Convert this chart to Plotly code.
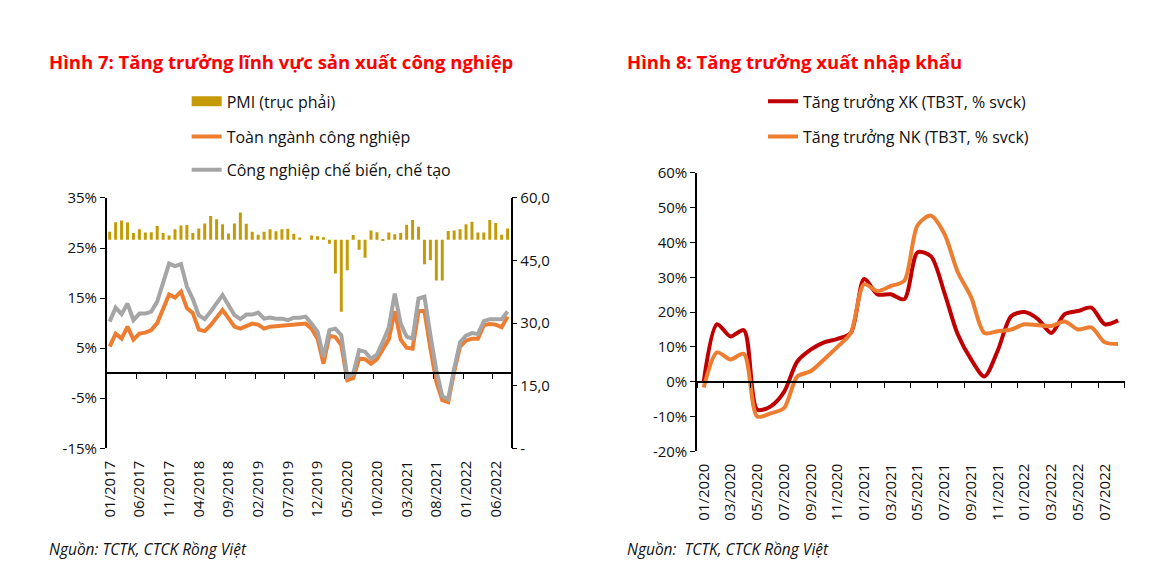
import plotly.graph_objects as go

# ---------------- data ----------------
months_ip = [f"{m:02d}/{y}" for y in range(2017, 2023) for m in range(1, 13)][:68]
pmi = [51.9, 54.2, 54.6, 54.1, 51.6, 52.5, 51.7, 51.8, 53.3, 51.6, 51.0, 52.5,
       53.4, 53.5, 51.6, 52.7, 53.9, 55.7, 54.9, 53.7, 51.5, 53.9, 56.5, 53.8,
       51.9, 51.2, 51.9, 52.5, 52.0, 52.5, 52.6, 51.4, 50.5, 50.0, 51.0, 50.8,
       50.6, 49.0, 41.9, 32.7, 42.7, 51.1, 47.6, 45.7, 52.2, 51.8, 49.9, 51.7,
       51.3, 51.6, 53.6, 54.7, 53.1, 44.1, 45.1, 40.2, 40.2, 52.1, 52.2, 52.5,
       53.7, 54.3, 51.7, 51.7, 54.7, 54.0, 51.2, 52.7]
ip_total = [5.3, 7.9, 6.9, 9.3, 6.7, 7.9, 8.1, 8.6, 10.0, 12.7, 15.7, 15.1,
            16.3, 13.0, 12.0, 8.7, 8.4, 9.6, 11.2, 12.6, 11.0, 9.3,
            8.9, 9.5, 9.9, 9.7, 8.9, 9.3, 9.4, 9.5, 9.6, 9.7, 9.9, 9.9,
            8.9, 6.9, 1.9, 7.5, 7.2, 5.6, -1.4, -1.0, 2.9, 2.8,
            1.9, 2.8, 4.8, 6.8, 12.4, 6.7, 5.1, 4.9, 12.4, 12.4, 5.0, -1.7,
            -5.4, -5.8, 0.3, 5.3, 6.5, 6.9, 6.9, 9.6, 9.8, 9.7, 9.2, 11.3]
ip_mfg = [10.3, 13.1, 11.8, 13.9, 10.6, 11.9, 11.9, 12.3, 14.3, 17.9, 21.9, 21.4,
          21.8, 17.3, 14.8, 11.6, 10.8, 12.3, 13.9, 15.6, 13.6, 11.6,
          10.8, 11.7, 11.7, 12.1, 10.9, 11.1, 10.9, 10.9, 10.6, 11.1, 11.1, 11.3,
          9.9, 8.3, 3.2, 8.6, 8.9, 7.6, -0.7, -0.1, 4.6, 4.3,
          2.9, 3.7, 6.3, 9.2, 15.9, 9.9, 7.3, 6.9, 14.9, 15.3, 7.6, 0.6,
          -4.6, -5.2, 0.9, 6.2, 7.5, 8.0, 7.8, 10.4, 10.8, 10.9, 10.8, 12.3]

months_tr = [f"{m:02d}/{y}" for y in range(2020, 2023) for m in range(1, 13)][:32]
xk = [0.0, 16.5, 13.0, 14.8, -8.0, -7.1, -3.0, 5.8, 9.2, 11.3, 12.3, 14.0,
      29.5, 25.1, 25.1, 23.7, 37.2, 36.0, 25.6, 13.6, 6.4, 1.5, 9.0, 18.8,
      20.0, 18.0, 14.0, 19.4, 20.3, 21.3, 16.5, 17.6]
nk = [-1.7, 8.4, 6.4, 8.0, -10.0, -9.1, -7.6, 1.5, 3.0, 6.4, 10.0, 14.0,
      28.0, 26.0, 27.5, 29.0, 45.0, 47.7, 42.5, 31.5, 24.3, 14.0, 14.5, 15.0,
      16.5, 16.2, 16.0, 17.3, 15.0, 15.6, 11.3, 10.8]

left_ticks = [-15, -5, 5, 15, 25, 35]
left_ticktext = ["-15%", "-5%", "5%", "15%", "25%", "35%"]
pmi_ticks = [0, 15, 30, 45, 60]
pmi_ticktext = ["-", "15,0", "30,0", "45,0", "60,0"]
right_ticks = [-20, -10, 0, 10, 20, 30, 40, 50, 60]
right_ticktext = ["-20%", "-10%", "0%", "10%", "20%", "30%", "40%", "50%", "60%"]

# ---------------- style ----------------
W, H = 1172, 572
FONT = "Open Sans"
TXT = "#111111"
GOLD = "#C49A06"
ORANGE = "#ED7D31"
GRAY = "#A5A5A5"
DARKRED = "#C00000"

# calibration of the capture (observed = s * page + b)
SX, BX = 0.996, 6.0
SY, BY = 0.96, 13.0

def PX(r):
    return (r - BX) / SX

def PY(r):
    return (r - BY) / SY

def fx(r):
    return PX(r) / W

def fy(r):
    return 1 - PY(r) / H

fig = go.Figure()

# left chart
fig.add_trace(go.Bar(x=months_ip, y=[p - 50 for p in pmi], base=50, width=0.5,
                     marker=dict(color=GOLD, line=dict(width=0)),
                     xaxis="x", yaxis="y2", showlegend=False, name="PMI (trục phải)"))
fig.add_trace(go.Scatter(x=[None], y=[None], mode="lines", name="PMI (trục phải)",
                         line=dict(color=GOLD, width=10), xaxis="x", yaxis="y2",
                         legend="legend"))
fig.add_trace(go.Scatter(x=months_ip, y=ip_total, mode="lines", name="Toàn ngành công nghiệp",
                         line=dict(color=ORANGE, width=4), xaxis="x", yaxis="y",
                         legend="legend2"))
fig.add_trace(go.Scatter(x=months_ip, y=ip_mfg, mode="lines", name="Công nghiệp chế biến, chế tạo",
                         line=dict(color=GRAY, width=4), xaxis="x", yaxis="y",
                         legend="legend3"))

# right chart
fig.add_trace(go.Scatter(x=months_tr, y=xk, mode="lines", name="Tăng trưởng XK (TB3T, % svck)",
                         line=dict(color=DARKRED, width=4, shape="spline", smoothing=0.8),
                         xaxis="x2", yaxis="y3", legend="legend4"))
fig.add_trace(go.Scatter(x=months_tr, y=nk, mode="lines", name="Tăng trưởng NK (TB3T, % svck)",
                         line=dict(color=ORANGE, width=4, shape="spline", smoothing=0.8),
                         xaxis="x2", yaxis="y3", legend="legend5"))

axis_font = dict(family=FONT, size=15, color=TXT)

fig.update_layout(
    width=W, height=H, margin=dict(l=0, r=0, t=0, b=0),
    paper_bgcolor="white", plot_bgcolor="white",
    font=dict(family=FONT, size=15, color=TXT),
    xaxis=dict(domain=[fx(105), fx(510)], anchor="free", position=fy(373),
               type="category", categoryorder="array", categoryarray=months_ip,
               range=[-0.5, 67.5], tickmode="linear", tick0=0, dtick=5,
               tickson="boundaries", ticks="outside", ticklen=5, tickcolor="black",
               showline=True, linecolor="black", linewidth=1.5, showgrid=False,
               tickangle=-90, tickfont=axis_font, ticklabelstandoff=81),
    yaxis=dict(domain=[fy(448), fy(199)], anchor="x", range=[-15, 35],
               tickmode="array", tickvals=left_ticks, ticktext=left_ticktext,
               ticks="outside", ticklen=5,
               tickcolor="black", showline=True, linecolor="black", linewidth=1.5,
               showgrid=False, zeroline=False, tickfont=axis_font),
    yaxis2=dict(overlaying="y", side="right", anchor="x", range=[0, 60],
                tickmode="array", tickvals=pmi_ticks, ticktext=pmi_ticktext,
                ticks="outside", ticklen=5,
                tickcolor="black", showline=True, linecolor="black", linewidth=1.5,
                showgrid=False, zeroline=False, tickfont=axis_font),
    xaxis2=dict(domain=[fx(697), fx(1126)], anchor="free", position=fy(382),
                type="category", categoryorder="array", categoryarray=months_tr,
                range=[-0.5, 31.5], tickmode="linear", tick0=0, dtick=2,
                tickson="boundaries", ticks="outside", ticklen=5, tickcolor="black",
                showline=True, linecolor="black", linewidth=1.5, showgrid=False,
                tickangle=-90, tickfont=axis_font, ticklabelstandoff=75),
    yaxis3=dict(domain=[fy(451), fy(174)], anchor="x2", range=[-20, 60],
                tickmode="array", tickvals=right_ticks, ticktext=right_ticktext,
                ticks="outside", ticklen=5,
                tickcolor="black", showline=True, linecolor="black", linewidth=1.5,
                showgrid=False, zeroline=False, tickfont=axis_font),
)

leg_common = dict(xanchor="left", yanchor="middle", bgcolor="rgba(0,0,0,0)",
                  font=dict(family=FONT, size=16, color=TXT), itemwidth=30)
fig.update_layout(
    legend=dict(x=(PX(225) - 40) / W, y=fy(103), **leg_common),
    legend2=dict(x=(PX(225) - 40) / W, y=fy(138), **leg_common),
    legend3=dict(x=(PX(225) - 40) / W, y=fy(171), **leg_common),
    legend4=dict(x=(PX(803) - 40) / W, y=fy(103), **leg_common),
    legend5=dict(x=(PX(803) - 40) / W, y=fy(138), **leg_common),
)

title_font = dict(family=FONT, size=18.5, color="#FF0000", weight="bold")
src_font = dict(family=FONT, size=15.5, color=TXT, style="italic")
fig.add_annotation(text="Hình 7: Tăng trưởng lĩnh vực sản xuất công nghiệp", xref="paper", yref="paper",
                   x=(PX(50) - 5) / W, y=fy(63), xanchor="left", yanchor="middle", showarrow=False,
                   font=title_font)
fig.add_annotation(text="Hình 8: Tăng trưởng xuất nhập khẩu", xref="paper", yref="paper",
                   x=(PX(630) - 5) / W, y=fy(63), xanchor="left", yanchor="middle", showarrow=False,
                   font=title_font)
fig.add_annotation(text="Nguồn: TCTK, CTCK Rồng Việt", xref="paper", yref="paper",
                   x=(PX(50) - 5) / W, y=fy(548), xanchor="left", yanchor="middle", showarrow=False,
                   font=src_font)
fig.add_annotation(text="Nguồn:  TCTK, CTCK Rồng Việt", xref="paper", yref="paper",
                   x=(PX(630) - 5) / W, y=fy(548), xanchor="left", yanchor="middle", showarrow=False,
                   font=src_font)

fig.write_html("out.html", config={"displayModeBar": False},
               post_script="document.body.style.margin='0px';document.body.style.overflow='hidden';")
